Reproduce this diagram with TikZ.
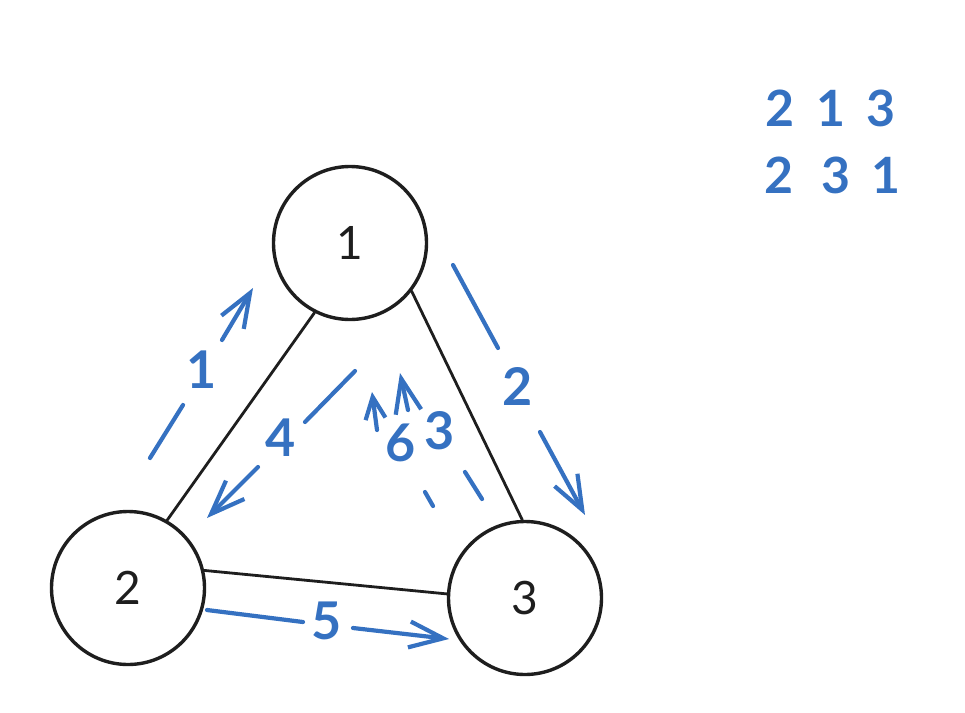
\documentclass[tikz,border=0pt]{standalone}
\usepackage{fontspec}
\setmainfont{Lato}
\usetikzlibrary{arrows.meta}
\definecolor{inkblue}{HTML}{3571C1}
\definecolor{inkblack}{HTML}{1E1E1E}
\tikzset{
  vertex/.style={circle, draw=inkblack, line width=3.4pt, minimum size=153pt, inner sep=0pt, font=\fontsize{46}{46}\selectfont, text=inkblack},
  edge/.style={draw=inkblack, line width=2.8pt, line cap=round},
  stroke/.style={draw=inkblue, line width=4.2pt, line cap=round, line join=round},
  bighead/.style={stroke, -{Straight Barb[length=34pt,width=26pt,line width=4.2pt]}},
  smallhead/.style={stroke, -{Straight Barb[length=22pt,width=20pt,line width=4.2pt]}},
  tag/.style={text=inkblue, inner sep=0pt, font=\fontsize{52}{52}\selectfont\bfseries},
  order/.style={text=inkblue, inner sep=0pt, font=\fontsize{50}{50}\selectfont\bfseries}
}
\begin{document}
\begin{tikzpicture}[x=1pt,y=-1pt]
\useasboundingbox (0,0) rectangle (965,712);
% vertices
\node[vertex] (n1) at (350,243) {1};
\node[vertex] (n2) at (128,588) {2};
\node[vertex] (n3) at (525,598) {3};
% black edges
\draw[edge] (n1.-117) -- (n2.60);
\draw[edge] (n1.-38) -- (n3.92);
\draw[edge] (n2.13) -- (n3.177);
% arrow 1
\coordinate (a1s) at (150,458); \coordinate (a1a) at (183,405);
\coordinate (a1b) at (222,340); \coordinate (a1e) at (253,288);
\draw[stroke] (a1s) -- (a1a);
\draw[bighead] (a1b) -- (a1e);
\node[tag] (l1) at (202,370) {1};
% arrow 2
\coordinate (a2s) at (453,265); \coordinate (a2a) at (498,348);
\coordinate (a2b) at (540,432); \coordinate (a2e) at (585,515);
\draw[stroke] (a2s) -- (a2a);
\draw[bighead] (a2b) -- (a2e);
\node[tag] (l2) at (518,386) {2};
% arrow 4
\coordinate (a4s) at (355,371); \coordinate (a4a) at (305,422);
\coordinate (a4b) at (258,467); \coordinate (a4e) at (207,518);
\draw[stroke] (a4s) -- (a4a);
\draw[bighead] (a4b) -- (a4e);
\node[tag] (l4) at (281,438) {4};
% arrow 5
\coordinate (a5s) at (207,610); \coordinate (a5a) at (303,622);
\coordinate (a5b) at (353,628); \coordinate (a5e) at (449,639);
\draw[stroke] (a5s) -- (a5a);
\draw[bighead] (a5b) -- (a5e);
\node[tag] (l5) at (327,621) {5};
% arrow 3
\coordinate (a3s) at (482,499); \coordinate (a3a) at (465,472);
\coordinate (a3b) at (408,410); \coordinate (a3e) at (400,373);
\draw[stroke] (a3s) -- (a3a);
\draw[bighead] (a3b) -- (a3e);
\node[tag] (l3) at (440,431) {3};
% arrow 6
\coordinate (a6s) at (433,506); \coordinate (a6a) at (425,492);
\coordinate (a6b) at (377,430); \coordinate (a6e) at (372,392);
\draw[stroke] (a6s) -- (a6a);
\draw[smallhead] (a6b) -- (a6e);
\node[tag] (l6) at (401,443) {6};
% orders
\node[order] (o11) at (780,108) {2};
\node[order] (o12) at (831,108) {1};
\node[order] (o13) at (881,108) {3};
\node[order] (o21) at (779,175) {2};
\node[order] (o22) at (836,175) {3};
\node[order] (o23) at (886,175) {1};
\end{tikzpicture}
\end{document}
